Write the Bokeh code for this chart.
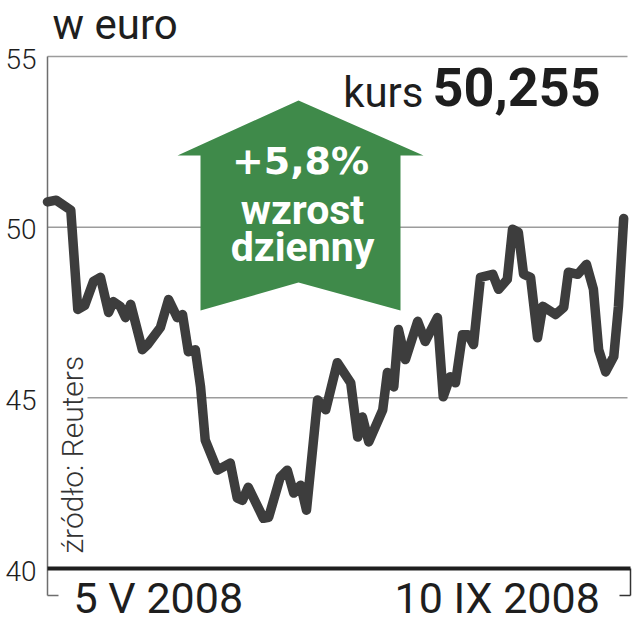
import math
from bokeh.plotting import figure
from bokeh.models import Range1d
from bokeh.core.properties import value
from bokeh.embed import file_html
from bokeh.resources import INLINE

# ---- data ----
sesja = [0.0, 1.5, 4.0, 5.2, 6.4, 7.9, 9.1, 10.5, 11.3, 12.5, 13.4, 14.3, 16.3, 17.2,
         19.4, 20.8, 22.3, 23.2, 24.2, 25.4, 26.3, 27.1, 29.2, 31.4, 32.6, 33.5, 34.5,
         37.1, 38.0, 40.0, 41.2, 42.3, 43.5, 44.5, 46.4, 47.8, 49.8, 52.1, 53.3, 54.1,
         55.2, 57.6, 58.4, 59.5, 60.3, 61.5, 63.6, 64.9, 67.0, 68.0, 69.2, 70.1, 71.3,
         72.3, 73.2, 74.4, 76.5, 77.5, 79.0, 79.9, 80.9, 81.8, 83.0, 84.2, 85.1, 87.3,
         88.7, 89.5, 91.1, 92.6, 93.8, 94.7, 95.9, 97.3, 98.1, 99.0]
kurs = [50.74, 50.79, 50.50, 47.59, 47.71, 48.41, 48.53, 47.50, 47.82, 47.68, 47.35,
        47.74, 46.41, 46.56, 47.06, 47.88, 47.35, 47.44, 46.35, 46.41, 45.32, 43.76,
        42.88, 43.09, 42.06, 42.00, 42.38, 41.47, 41.50, 42.68, 42.88, 42.21, 42.44,
        41.71, 44.94, 44.65, 46.03, 45.44, 43.85, 44.44, 43.71, 44.65, 45.74, 45.32,
        47.00, 46.12, 47.24, 46.65, 47.35, 45.03, 45.62, 45.44, 46.85, 46.85, 46.56,
        48.53, 48.62, 48.18, 48.47, 49.94, 49.85, 48.62, 48.53, 46.76, 47.68, 47.44,
        47.65, 48.68, 48.62, 48.91, 48.18, 46.41, 45.76, 46.21, 47.68, 50.255]
y_ticks = [40, 45, 50, 55]
y_tick_labels = ["40", "45", "50", "55"]
x_labels = ["5 V 2008", "10 IX 2008"]
tytul = "w euro"
kurs_label = "kurs"
kurs_value = "50,255"
zmiana = ["+5,8%", "wzrost", "dzienny"]
zrodlo = "źródło: Reuters"

# ---- layout helpers (picture px -> data) ----
PX_X = 5.82
PX_Y = 512 / 15.0
def sx(px):
    return (px - 47) / PX_X
def sy(py):
    return 40 + (568 - py) / PX_Y
def mid(baseline_px, size_px):
    # anchor for text_baseline="middle" given a wanted alphabetic baseline
    return baseline_px - 0.34 * size_px

W, H = 632, 640
p = figure(width=W, height=H, output_backend="svg", toolbar_location=None,
           x_range=Range1d(sx(0), sx(W)), y_range=Range1d(sy(H), sy(0)),
           min_border=0, border_fill_color="white", background_fill_color="white")
p.axis.visible = False
p.grid.visible = False
p.outline_line_color = None

GRID = "#9c9c9c"
INK = "#1e1e1e"
GREEN = "#3f8a4a"
LINE = "#3d3d3d"

# gridlines
g_vals = [v for v in y_ticks if v > 40]
g_x0 = [sx(87) if v == 45 else sx(47) for v in g_vals]
p.segment(x0=g_x0, y0=g_vals, x1=[sx(627)] * len(g_vals), y1=g_vals,
          line_color=GRID, line_width=1.5)

# left axis + bracket
p.segment(x0=[sx(47), sx(47)], y0=[sy(56), sy(595)], x1=[sx(47), sx(58)], y1=[sy(595), sy(595)],
          line_color="#6e6e6e", line_width=1.5)
p.segment(x0=[sx(630), sx(619)], y0=[sy(568), sy(595)], x1=[sx(630), sx(630)], y1=[sy(595), sy(595)],
          line_color="#333333", line_width=1.5)
# bottom axis
p.segment(x0=[sx(47)], y0=[40], x1=[sx(630)], y1=[40], line_color=INK, line_width=4)

# price line
p.line(sesja, kurs, line_color=LINE, line_width=9.5, line_join="round", line_cap="round")

# arrow
ax = [298, 423, 400, 400, 298, 200, 200, 177]
ay = [100, 155, 155, 310, 282, 310, 155, 155]
p.patch([sx(v) for v in ax], [sy(v) for v in ay], fill_color=GREEN, line_color=None)

p.text(x=[sx(300)], y=[sy(mid(173, 38))], text=[zmiana[0]], text_font=value("DejaVu Sans"),
       text_font_style="bold", text_font_size=value("38px"), text_color="white",
       text_align="center", text_baseline="middle")
p.text(x=[sx(302), sx(302)], y=[sy(mid(223, 41)), sy(mid(260, 41))], text=zmiana[1:],
       text_font=value("Roboto"), text_font_style="bold", text_font_size=value("41px"),
       text_color="white", text_align="center", text_baseline="middle")

# titles
p.text(x=[sx(52)], y=[sy(mid(38, 42))], text=[tytul], text_font=value("Roboto"),
       text_font_size=value("42px"), text_color=INK, text_align="left", text_baseline="middle")
p.text(x=[sx(423)], y=[sy(mid(106, 42))], text=[kurs_label], text_font=value("Roboto"),
       text_font_size=value("42px"), text_color=INK, text_align="right", text_baseline="middle")
p.text(x=[sx(432)], y=[sy(mid(105, 54))], text=[kurs_value], text_font=value("Roboto"),
       text_font_style="bold", text_font_size=value("54px"), text_color=INK,
       text_align="left", text_baseline="middle")

# y tick labels
p.text(x=[sx(36)] * len(y_ticks), y=[v - 0.06 for v in y_ticks], text=y_tick_labels,
       text_font=value("Roboto Light, DejaVu Sans"), text_font_size=value("28px"), text_color=INK,
       text_align="right", text_baseline="middle")

# x labels
p.text(x=[sx(73), sx(394)], y=[sy(mid(612, 43))] * 2, text=x_labels, text_font=value("Roboto"),
       text_font_size=value("43px"), text_color=INK, text_align="left", text_baseline="middle")

# source (rotated, reads bottom to top)
p.text(x=[sx(mid(82, 30))], y=[sy(553)], text=[zrodlo], angle=math.pi / 2,
       text_font=value("Roboto Light, Roboto"), text_font_size=value("30px"), text_color="#333333",
       text_align="left", text_baseline="middle")

open("out.html", "w").write(file_html(p, INLINE))
